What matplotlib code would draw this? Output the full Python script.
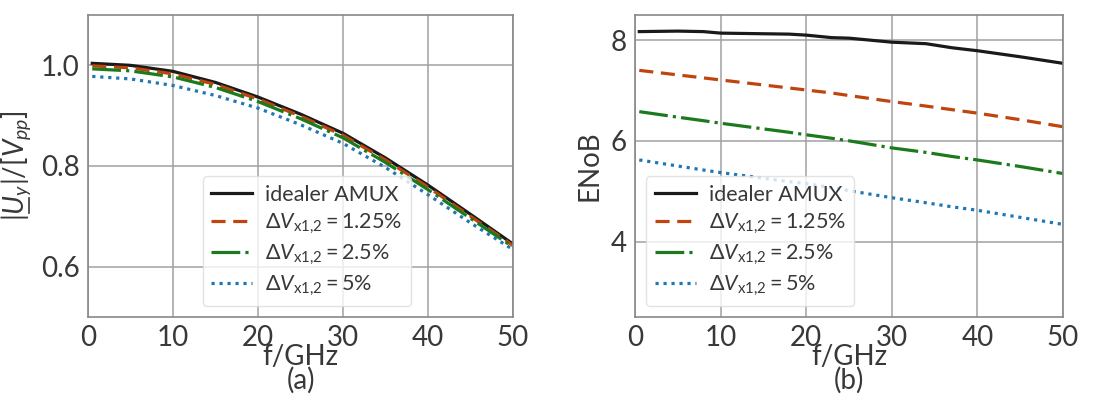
import matplotlib
matplotlib.use('Agg')
import matplotlib.pyplot as plt
from matplotlib.lines import Line2D

# frequency axis (GHz)
f = [0.5, 5, 10, 15, 20, 25, 30, 35, 40, 45, 50]

# (a) normalised output amplitude
amp_ideal = [1.004, 1.000, 0.988, 0.966, 0.937, 0.903, 0.865, 0.816, 0.762, 0.704, 0.645]
amp_125 = [0.999, 0.995, 0.983, 0.962, 0.933, 0.899, 0.861, 0.812, 0.758, 0.700, 0.642]
amp_25 = [0.993, 0.989, 0.977, 0.956, 0.928, 0.894, 0.856, 0.807, 0.753, 0.696, 0.639]
amp_5 = [0.978, 0.973, 0.960, 0.940, 0.915, 0.882, 0.845, 0.797, 0.743, 0.687, 0.634]

# (b) effective number of bits
f_enob = [0.5, 5, 8, 10, 18, 20, 23, 25, 30, 34, 37, 40, 45, 50]
enob_ideal = [8.17, 8.18, 8.17, 8.14, 8.12, 8.10, 8.05, 8.04, 7.96, 7.93, 7.85, 7.79, 7.67, 7.54]
enob_125 = [7.40, 7.31, 7.25, 7.21, 7.05, 7.01, 6.95, 6.90, 6.78, 6.69, 6.62, 6.55, 6.42, 6.28]
enob_25 = [6.58, 6.47, 6.40, 6.35, 6.17, 6.12, 6.05, 6.00, 5.86, 5.77, 5.69, 5.62, 5.49, 5.35]
enob_5 = [5.62, 5.50, 5.42, 5.37, 5.19, 5.15, 5.07, 5.01, 4.87, 4.77, 4.69, 4.62, 4.48, 4.34]

labels = ['idealer AMUX',
          r'$\Delta V_{\mathrm{x1{,}2}} = 1.25\%$',
          r'$\Delta V_{\mathrm{x1{,}2}} = 2.5\%$',
          r'$\Delta V_{\mathrm{x1{,}2}} = 5\%$']
colors = ['#1a1a1a', '#bf440d', '#1b7a1b', '#1f77b4']
dashes = [None, (4.4, 2.4), (9, 1.6, 1, 1.6), (1, 1.5)]

plt.rcParams['font.family'] = ['Lato', 'DejaVu Sans']
plt.rcParams['mathtext.fontset'] = 'custom'
plt.rcParams['mathtext.rm'] = 'Lato'
plt.rcParams['mathtext.it'] = 'Lato:italic'
plt.rcParams['mathtext.bf'] = 'Lato:bold'
plt.rcParams['text.color'] = '#383838'
plt.rcParams['axes.labelcolor'] = '#383838'
plt.rcParams['xtick.color'] = '#383838'
plt.rcParams['ytick.color'] = '#383838'

fig = plt.figure(figsize=(11.12, 3.96), dpi=100)
ax1 = fig.add_axes([88/1112, 1-317/396, 425/1112, 302/396])
ax2 = fig.add_axes([635/1112, 1-317/396, 428/1112, 302/396])


def draw(ax, x, series):
    for y, c, d, l in zip(series, colors, dashes, labels):
        line, = ax.plot(x, y, color=c, lw=2.3, label=l)
        if d is not None:
            line.set_dashes(d)


draw(ax1, f, [amp_ideal, amp_125, amp_25, amp_5])
draw(ax2, f_enob, [enob_ideal, enob_125, enob_25, enob_5])

ax1.set_ylim(0.5, 1.1)
ax1.set_yticks([0.6, 0.8, 1.0])
ax2.set_ylim(2.5, 8.5)
ax2.set_yticks([4, 6, 8])

for ax, tag in [(ax1, '(a)'), (ax2, '(b)')]:
    ax.set_xlim(0, 50)
    ax.set_xticks([0, 10, 20, 30, 40, 50])
    ax.grid(True, color='#a0a0a0', lw=1.1)
    ax.set_axisbelow(True)
    for sp in ax.spines.values():
        sp.set_color('#888888')
        sp.set_linewidth(1.2)
    ax.tick_params(labelsize=20, length=0, pad=6)
    ax.set_xlabel('f/GHz\n' + tag, fontsize=20, linespacing=0.85, va='top')
    ax.xaxis.set_label_coords(0.5, -0.09)
    ax.legend(loc='lower left', fontsize=15.5, handlelength=1.9,
              handletextpad=0.6, borderaxespad=0,
              bbox_to_anchor=(0.27 if ax is ax1 else 0.026, 0.036),
              framealpha=0.8, edgecolor='#dddddd', fancybox=True,
              borderpad=0.4, labelspacing=0.3)

ax1.set_ylabel(r'$|U_y|/[V_{pp}]$', fontsize=20, labelpad=6)
ax2.set_ylabel('ENoB', fontsize=20, labelpad=6)

# underline under U (mathtext has no \underline)
fig.canvas.draw()
bb = ax1.yaxis.label.get_window_extent()
h = bb.y1 - bb.y0
ux = bb.x1 - 4
fig.add_artist(Line2D([ux, ux], [bb.y0 + 0.08 * h, bb.y0 + 0.21 * h],
                      transform=None, color='#383838', lw=1.2))

fig.savefig('out.png', dpi=100)
